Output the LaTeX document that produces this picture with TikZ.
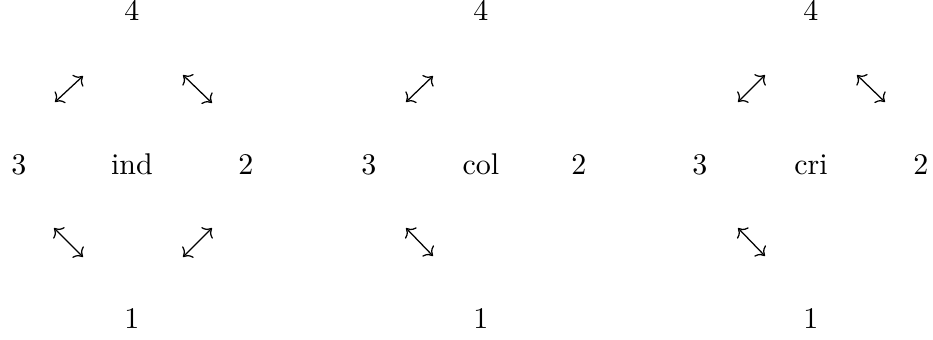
\documentclass[tikz,border=0pt]{standalone}
\usetikzlibrary{arrows.meta}
\begin{document}
\begin{tikzpicture}[x=0.3333pt,y=-0.3333pt,
  lbl/.style={anchor=base, inner sep=0pt, font=\fontsize{10}{12}\selectfont},
  dbl/.style={line width=0.42pt, {Computer Modern Rightarrow}-{Computer Modern Rightarrow}}]
\useasboundingbox (0,0) rectangle (933,339);
% diagram 1
\node[lbl] (d1t) at (132,20) {4};
\node[lbl] (d1l) at (19,174) {3};
\node[lbl] (d1c) at (132,174) {ind};
\node[lbl] (d1r) at (246,174) {2};
\node[lbl] (d1b) at (132,328) {1};
\coordinate (p1a) at (55,102); \coordinate (p1b) at (83,76);
\coordinate (p2a) at (183,75); \coordinate (p2b) at (212,103);
\coordinate (p3a) at (54,228); \coordinate (p3b) at (83,257);
\coordinate (p4a) at (183,257); \coordinate (p4b) at (212,228);
\draw[dbl] (p1a) -- (p1b);
\draw[dbl] (p2a) -- (p2b);
\draw[dbl] (p3a) -- (p3b);
\draw[dbl] (p4a) -- (p4b);
% diagram 2
\node[lbl] (d2t) at (481,20) {4};
\node[lbl] (d2l) at (369,174) {3};
\node[lbl] (d2c) at (481,174) {col};
\node[lbl] (d2r) at (579,174) {2};
\node[lbl] (d2b) at (481,328) {1};
\coordinate (q1a) at (406,102); \coordinate (q1b) at (433,76);
\coordinate (q3a) at (406,228); \coordinate (q3b) at (433,256);
\draw[dbl] (q1a) -- (q1b);
\draw[dbl] (q3a) -- (q3b);
% diagram 3
\node[lbl] (d3t) at (811,20) {4};
\node[lbl] (d3l) at (700,174) {3};
\node[lbl] (d3c) at (811,174) {cri};
\node[lbl] (d3r) at (921,174) {2};
\node[lbl] (d3b) at (811,328) {1};
\coordinate (r1a) at (738,102); \coordinate (r1b) at (765,75);
\coordinate (r2a) at (857,75); \coordinate (r2b) at (885,102);
\coordinate (r3a) at (738,228); \coordinate (r3b) at (765,256);
\draw[dbl] (r1a) -- (r1b);
\draw[dbl] (r2a) -- (r2b);
\draw[dbl] (r3a) -- (r3b);
\end{tikzpicture}
\end{document}
